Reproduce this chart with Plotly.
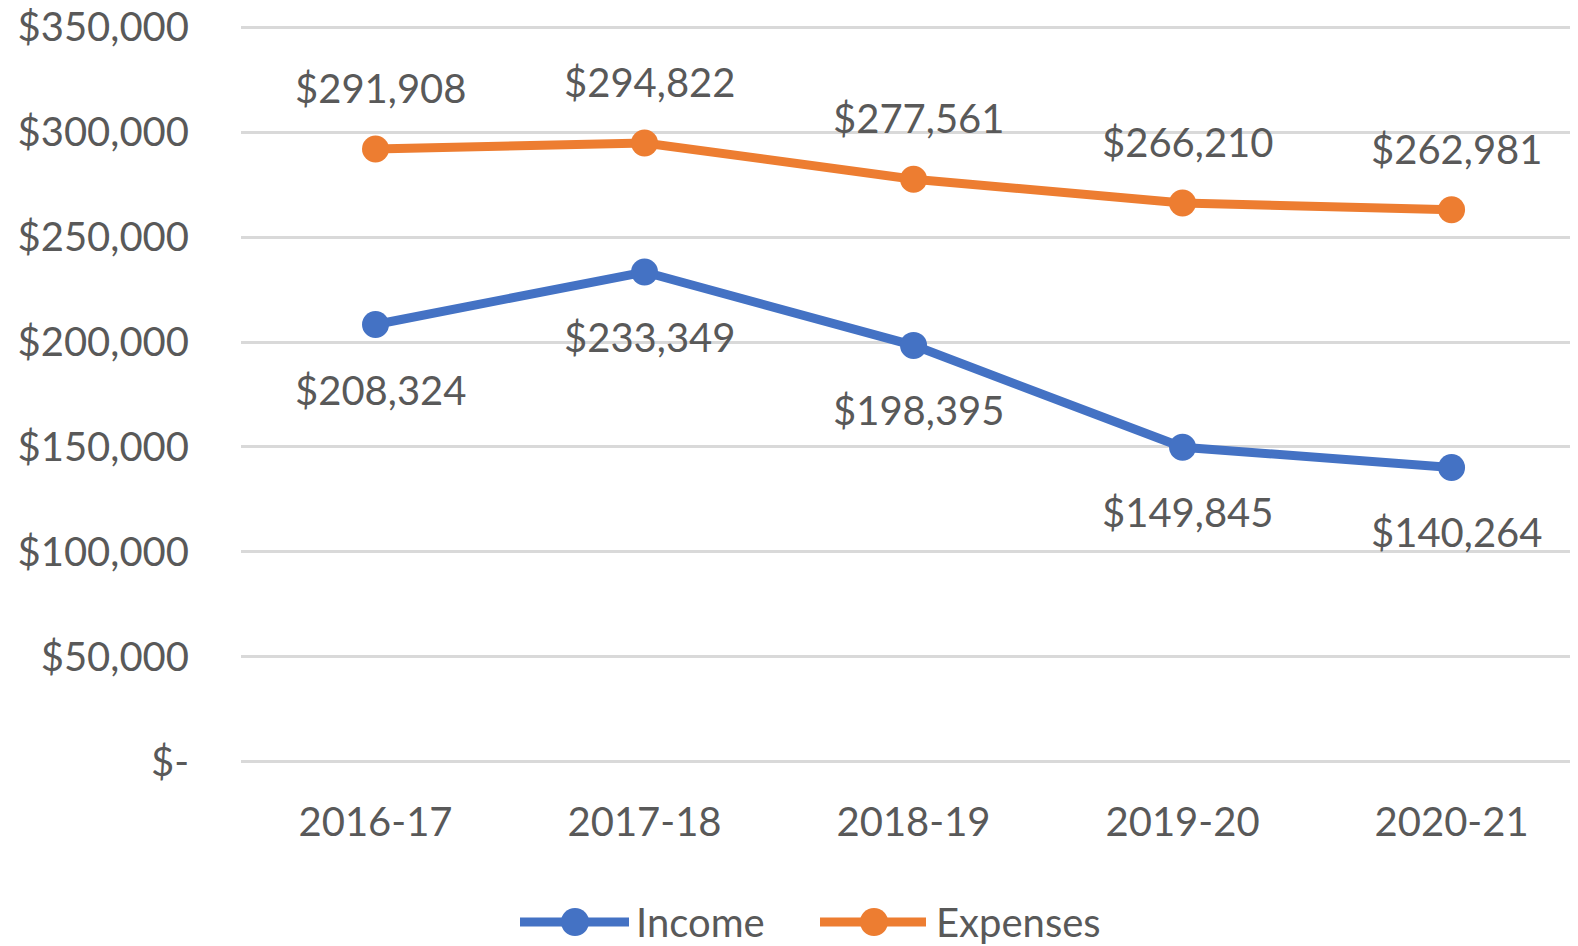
import plotly.graph_objects as go

years = ["2016-17", "2017-18", "2018-19", "2019-20", "2020-21"]
income = [208324, 233349, 198395, 149845, 140264]
expenses = [291908, 294822, 277561, 266210, 262981]
series_names = ["Income", "Expenses"]
tick_vals = [0, 50000, 100000, 150000, 200000, 250000, 300000, 350000]
tick_text = ["$-", "$50,000", "$100,000", "$150,000", "$200,000", "$250,000", "$300,000", "$350,000"]

BLUE = "#4472C4"
ORANGE = "#ED7D31"
TXT = "#595959"
FONT = "Lato, Open Sans, sans-serif"
FS = 40

W, H = 1578, 946
ML, MR, MT, MB = 233, 8, 17, 190
PW = W - ML - MR
PH = H - MT - MB

fig = go.Figure()
fig.add_trace(go.Scatter(x=years, y=income, name=series_names[0], mode="lines+markers",
                         line=dict(color=BLUE, width=9), marker=dict(size=27, color=BLUE)))
fig.add_trace(go.Scatter(x=years, y=expenses, name=series_names[1], mode="lines+markers",
                         line=dict(color=ORANGE, width=9), marker=dict(size=27, color=ORANGE)))

annots = []
for x, v in zip(years, expenses):
    annots.append(dict(x=x, y=v, text=f"${v:,}", showarrow=False, yshift=61, xshift=5,
                       font=dict(family=FONT, size=FS, color=TXT)))
for x, v in zip(years, income):
    annots.append(dict(x=x, y=v, text=f"${v:,}", showarrow=False, yshift=-65, xshift=5,
                       font=dict(family=FONT, size=FS, color=TXT)))

# custom legend (Excel-style long line samples), pixel positions in figure coords
def px(xp):
    return (xp - ML) / PW

def py(yp):
    return (H - MB - yp) / PH

shapes = []
leg_y = 914
for (x0, x1, xc, xt), name, col in zip([(512, 621, 567, 626), (812, 918, 866, 926)],
                                        series_names, [BLUE, ORANGE]):
    shapes.append(dict(type="line", xref="paper", yref="paper", x0=px(x0), x1=px(x1),
                       y0=py(leg_y), y1=py(leg_y), line=dict(color=col, width=9)))
    shapes.append(dict(type="circle", xref="paper", yref="paper", x0=px(xc - 14), x1=px(xc + 14),
                       y0=py(leg_y - 14), y1=py(leg_y + 14), fillcolor=col, line=dict(width=0)))
    annots.append(dict(xref="paper", yref="paper", x=px(xt), y=py(leg_y), text=name,
                       xanchor="left", yanchor="middle", showarrow=False,
                       font=dict(family=FONT, size=FS, color=TXT)))

fig.update_layout(
    width=W, height=H,
    margin=dict(l=ML, r=MR, t=MT, b=MB),
    plot_bgcolor="white", paper_bgcolor="white",
    font=dict(family=FONT, size=FS, color=TXT),
    annotations=annots,
    shapes=shapes,
    showlegend=False,
)
fig.update_xaxes(range=[-0.5, 4.47], showgrid=False, showline=False, zeroline=False,
                 ticks="", ticklabelstandoff=31, automargin=False,
                 tickfont=dict(family=FONT, size=FS, color=TXT))
fig.update_yaxes(range=[-1000, 351000], tickvals=tick_vals, ticktext=tick_text,
                 showgrid=True, gridcolor="#D9D9D9", gridwidth=3, zeroline=False,
                 showline=False, ticklabelstandoff=51, automargin=False,
                 ticklabeloverflow="allow",
                 tickfont=dict(family=FONT, size=FS, color=TXT))

fig.write_html("out.html")
